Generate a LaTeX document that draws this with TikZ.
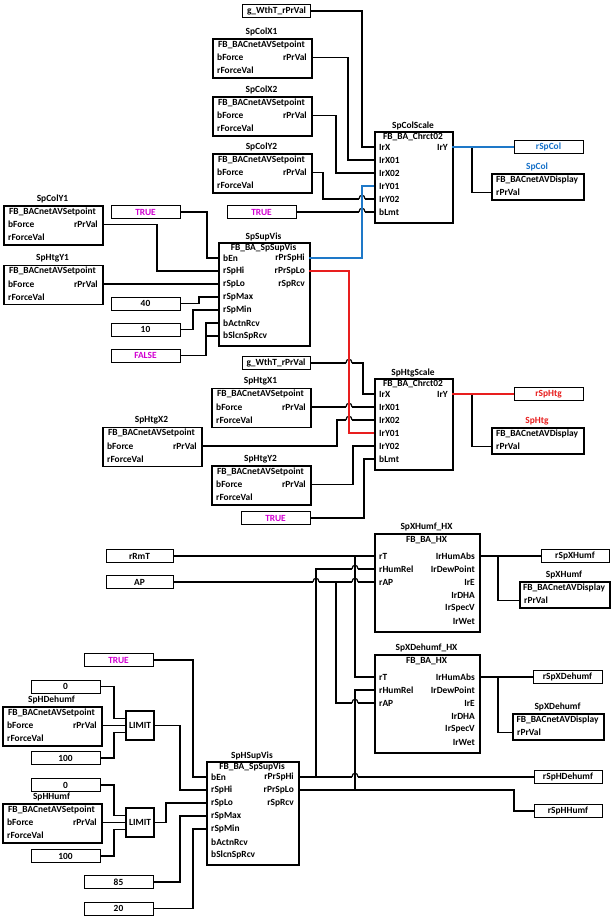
\documentclass[tikz,border=0pt]{standalone}
\usepackage{fontspec}
\setmainfont{Carlito}
\definecolor{wblue}{RGB}{30,120,200}
\definecolor{wred}{RGB}{232,30,30}
\definecolor{mag}{RGB}{210,0,210}
\definecolor{tblue}{RGB}{20,112,200}
\newcommand{\lblfont}{\fontsize{9.4}{10}\selectfont\bfseries}
\tikzset{
  fb/.style={draw, line width=1.6pt, inner sep=0pt, anchor=north west},
  cst/.style={draw, line width=1pt, inner sep=0pt, minimum height=13, minimum width=69, font=\lblfont},
  lbl/.style={inner sep=0pt, font=\lblfont},
  w/.style={line width=1.2pt},
  wb/.style={line width=1.2pt, draw=wblue},
  wr/.style={line width=1.2pt, draw=wred}
}
% hop (line jump) over a crossing wire, centred at x=#1 on y=#2
\newcommand{\hop}[2]{\draw[w] ({#1-3},#2) .. controls ({#1-3},{#2-5}) and ({#1+3},{#2-5}) .. ({#1+3},#2);}
% setpoint block: name,left,top,title
\newcommand{\spblk}[4]{%
  \node[fb,minimum width=99,minimum height=39] (#1) at (#2,#3) {};
  \node[lbl] (#1-t) at ({#2+49.5},{#3-6}) {#4};
  \node[lbl] (#1-h) at ({#2+49.5},{#3+6.5}) {FB\_BACnetAVSetpoint};
  \node[lbl,anchor=west] (#1-a) at ({#2+5},{#3+19.5}) {bForce};
  \node[lbl,anchor=east] (#1-b) at ({#2+95},{#3+19.5}) {rPrVal};
  \node[lbl,anchor=west] (#1-c) at ({#2+5},{#3+32.5}) {rForceVal};
  \coordinate (#1-o) at ({#2+99},{#3+19.5});}
% display block: name,left,top,width,title,titlecolor
\newcommand{\dspblk}[6]{%
  \node[fb,minimum width=#4,minimum height=26] (#1) at (#2,#3) {};
  \node[lbl,text=#6] (#1-t) at ({#2+#4/2},{#3-6}) {#5};
  \node[lbl] (#1-h) at ({#2+#4/2},{#3+6.5}) {FB\_BACnetAVDisplay};
  \node[lbl,anchor=west] (#1-a) at ({#2+5},{#3+19.5}) {rPrVal};
  \coordinate (#1-i) at (#2,{#3+19.5});}
% characteristic block: name,left,top,title
\newcommand{\chrblk}[4]{%
  \node[fb,minimum width=78,minimum height=91] (#1) at (#2,#3) {};
  \node[lbl] (#1-t) at ({#2+39},{#3-5.5}) {#4};
  \node[lbl] (#1-h) at ({#2+39},{#3+5.5}) {FB\_BA\_Chrct02};
  \foreach \pn [count=\k from 0] in {IrX,IrX01,IrX02,IrY01,IrY02,bLmt} {
    \node[lbl,anchor=west] (#1-l\k) at ({#2+5},{#3+16+13*\k}) {\pn};
    \coordinate (#1-i\k) at (#2,{#3+16+13*\k});}
  \node[lbl,anchor=east] (#1-ol) at ({#2+74},{#3+16}) {IrY};
  \coordinate (#1-o) at ({#2+78},{#3+16});}
% supervision block: name,left,top,width,title
\newcommand{\svblk}[5]{%
  \node[fb,minimum width=#4,minimum height=103] (#1) at (#2,#3) {};
  \node[lbl] (#1-t) at ({#2+#4/2},{#3-5.5}) {#5};
  \node[lbl] (#1-h) at ({#2+#4/2},{#3+5.5}) {FB\_BA\_SpSupVis};
  \foreach \pn [count=\k from 0] in {bEn,rSpHi,rSpLo,rSpMax,rSpMin,bActnRcv,bSlcnSpRcv} {
    \node[lbl,anchor=west] (#1-l\k) at ({#2+5},{#3+16+13*\k}) {\pn};
    \coordinate (#1-i\k) at (#2,{#3+16+13*\k});}
  \foreach \pn [count=\k from 0] in {rPrSpHi,rPrSpLo,rSpRcv} {
    \node[lbl,anchor=east] (#1-m\k) at ({#2+#4-4},{#3+16+13*\k}) {\pn};
    \coordinate (#1-o\k) at ({#2+#4},{#3+16+13*\k});}}
% HX block: name,left,top,title
\newcommand{\hxblk}[4]{%
  \node[fb,minimum width=105,minimum height=98] (#1) at (#2,#3) {};
  \node[lbl] (#1-t) at ({#2+52.5},{#3-6}) {#4};
  \node[lbl] (#1-h) at ({#2+52.5},{#3+7}) {FB\_BA\_HX};
  \foreach \pn [count=\k from 0] in {rT,rHumRel,rAP} {
    \node[lbl,anchor=west] (#1-l\k) at ({#2+5},{#3+23+13*\k}) {\pn};
    \coordinate (#1-i\k) at (#2,{#3+23+13*\k});}
  \foreach \pn [count=\k from 0] in {IrHumAbs,IrDewPoint,IrE,IrDHA,IrSpecV,IrWet} {
    \node[lbl,anchor=east] (#1-m\k) at ({#2+101},{#3+23+13*\k}) {\pn};}
  \coordinate (#1-o0) at ({#2+105},{#3+23});}
% LIMIT block: name, center y
\newcommand{\limblk}[2]{%
  \node[draw,line width=1.6pt,minimum width=28,minimum height=29,inner sep=0pt,font=\lblfont] (#1) at (140,#2) {LIMIT};
  \coordinate (#1-a) at (126,{#2-7});
  \coordinate (#1-b) at (126,#2);
  \coordinate (#1-c) at (126,{#2+7});}
\begin{document}
\begin{tikzpicture}[x=1pt,y=-1pt]
\useasboundingbox (0,0) rectangle (611,918);
\fill[white] (0,0) rectangle (611,918);

% ---------------- top: SpColScale ----------------
\node[cst,minimum width=68] (g1) at (276.5,11) {g\_WthT\_rPrVal};
\spblk{scx1}{212}{38}{SpColX1}
\spblk{scx2}{212}{96}{SpColX2}
\spblk{scy2}{212}{153}{SpColY2}
\chrblk{scs}{374}{131}{SpColScale}
\node[cst,text=tblue] (rspcol) at (548.5,147) {rSpCol};
\dspblk{dcol}{491}{173}{92}{SpCol}{tblue}
\node[cst,text=mag] (t2) at (261.5,212) {TRUE};

% ---------------- SpSupVis ----------------
\spblk{scy1}{3}{205}{SpColY1}
\spblk{shy1}{3}{264.5}{SpHtgY1}
\node[cst,text=mag] (t1) at (145.5,212) {TRUE};
\svblk{ssv}{218}{242}{91}{SpSupVis}
\node[cst] (c40) at (145.5,303.5) {40};
\node[cst] (c10) at (145.5,329.5) {10};
\node[cst,text=mag] (cf) at (145.5,355.5) {FALSE};

% ---------------- SpHtgScale ----------------
\node[cst,minimum width=68] (g2) at (276,363) {g\_WthT\_rPrVal};
\spblk{shx1}{211}{387.5}{SpHtgX1}
\spblk{shx2}{102}{426.5}{SpHtgX2}
\spblk{shy2}{211}{465}{SpHtgY2}
\chrblk{shs}{374}{378}{SpHtgScale}
\node[cst,text=wred] (rsphtg) at (548.5,394) {rSpHtg};
\dspblk{dhtg}{491}{427}{92}{SpHtg}{wred}
\node[cst,text=mag] (t3) at (275.5,518) {TRUE};

% ---------------- HX ----------------
\node[cst,minimum width=67] (rrmt) at (139.5,556) {rRmT};
\node[cst,minimum width=67] (ap) at (139.5,582) {AP};
\hxblk{hx1}{374}{533}{SpXHumf\_HX}
\hxblk{hx2}{374}{654}{SpXDehumf\_HX}
\node[cst,minimum width=68] (rspxh) at (575,556) {rSpXHumf};
\dspblk{dxh}{519}{581}{90}{SpXHumf}{black}
\node[cst] (rspxd) at (567.5,677) {rSpXDehumf};
\dspblk{dxd}{512}{713}{91}{SpXDehumf}{black}
\node[cst,minimum width=68] (rsphd) at (568,777) {rSpHDehumf};
\node[cst,minimum width=68] (rsphh) at (568,811) {rSpHHumf};

% ---------------- bottom left ----------------
\node[cst,text=mag] (t4) at (118.5,660) {TRUE};
\node[cst] (z1) at (65.5,686.5) {0};
\spblk{shd}{2}{706}{SpHDehumf}
\node[cst] (h1) at (65.5,758) {100};
\limblk{lim1}{725.5}
\node[cst] (z2) at (65.5,785) {0};
\spblk{shh}{2}{803}{SpHHumf}
\node[cst] (h2) at (65.5,856) {100};
\limblk{lim2}{822.5}
\svblk{hsv}{206}{761}{92}{SpHSupVis}
\node[cst] (c85) at (118.5,882) {85};
\node[cst] (c20) at (118.5,908.5) {20};

% junction coordinates
\coordinate (jf) at (206,336);
\coordinate (jcol) at (472,147);
\coordinate (jhtg) at (472,394);
\coordinate (jrmt) at (355,556);
\coordinate (jap) at (336,582);
\coordinate (jhi) at (316,777);
\coordinate (jlo) at (355,790);
\coordinate (jxh) at (498,556);
\coordinate (jxd) at (498,677);

% ---------------- wires: SpColScale ----------------
\draw[w] (g1.east) -| (362,147) -- (scs-i0);
\draw[w] (scx1-o) -| (348,160) -- (scs-i1);
\draw[w] (scx2-o) -| (336,173) -- (scs-i2);
\draw[w] (scy2-o) -| (323,199) -- (359,199);  \hop{362}{199}  \draw[w] (365,199) -- (scs-i4);
\draw[w] (t2.east) -- (359,212);  \hop{362}{212}  \draw[w] (365,212) -- (scs-i5);
\draw[w] (jcol) |- (dcol-i);

% ---------------- wires: SpSupVis ----------------
\draw[w] (scy1-o) -| (157,271) -- (ssv-i1);
\draw[w] (shy1-o) -- (ssv-i2);
\draw[w] (t1.east) -| (207,258) -- (ssv-i0);
\draw[w] (c40.east) -| (199,297) -- (ssv-i3);
\draw[w] (c10.east) -| (193,310) -- (ssv-i4);
\draw[w] (cf.east) -| (206,323) -- (ssv-i5);
\draw[w] (jf) -- (ssv-i6);

% ---------------- wires: SpHtgScale ----------------
\draw[w] (g2.east) -- (346,363);  \hop{349}{363}  \draw[w] (352,363) -| (363,394) -- (shs-i0);
\draw[w] (shx1-o) -- (346,407);  \hop{349}{407}  \draw[w] (352,407) -- (shs-i1);
\draw[w] (shx2-o) -| (337,420) -- (346,420);  \hop{349}{420}  \draw[w] (352,420) -- (shs-i2);
\draw[w] (shy2-o) -| (353,446) -- (shs-i4);
\draw[w] (t3.east) -| (364,459) -- (shs-i5);
\draw[w] (jhtg) |- (dhtg-i);

% ---------------- coloured wires ----------------
\draw[wb] (ssv-o0) -| (362,186) -- (scs-i3);
\draw[wb] (scs-o) -- (rspcol.west);
\draw[wr] (ssv-o1) -| (349,433) -- (shs-i3);
\draw[wr] (shs-o) -- (rsphtg.west);

% ---------------- wires: HX ----------------
\draw[w] (rrmt.east) -- (hx1-i0);
\draw[w] (jrmt) |- (hx2-i0);
\draw[w] (ap.east) -- (313,582);  \hop{316}{582}  \draw[w] (319,582) -- (352,582);  \hop{355}{582}  \draw[w] (358,582) -- (hx1-i2);
\draw[w] (jap) -- (336,703) -- (352,703);  \hop{355}{703}  \draw[w] (358,703) -- (hx2-i2);
\draw[w] (hsv-o0) -| (316,569) -- (352,569);  \hop{355}{569}  \draw[w] (358,569) -- (hx1-i1);
\draw[w] (jhi) -- (352,777);  \hop{355}{777}  \draw[w] (358,777) -- (rsphd.west);
\draw[w] (hsv-o1) -| (355,690) -- (hx2-i1);
\draw[w] (jlo) -| (514,811) -- (rsphh.west);
\draw[w] (hx1-o0) -- (rspxh.west);
\draw[w] (jxh) |- (dxh-i);
\draw[w] (hx2-o0) -- (rspxd.west);
\draw[w] (jxd) |- (dxd-i);

% ---------------- wires: bottom left ----------------
\draw[w] (t4.east) -| (193,777) -- (hsv-i0);
\draw[w] (z1.east) -| (114,718.5) -- (lim1-a);
\draw[w] (shd-o) -- (lim1-b);
\draw[w] (h1.east) -| (114,732.5) -- (lim1-c);
\draw[w] (lim1.east) -| (180,790) -- (hsv-i1);
\draw[w] (z2.east) -| (114,815.5) -- (lim2-a);
\draw[w] (shh-o) -- (lim2-b);
\draw[w] (h2.east) -| (114,829.5) -- (lim2-c);
\draw[w] (lim2.east) -| (166,803) -- (hsv-i2);
\draw[w] (c85.east) -| (180,816) -- (hsv-i3);
\draw[w] (c20.east) -| (193,829) -- (hsv-i4);
\end{tikzpicture}
\end{document}
